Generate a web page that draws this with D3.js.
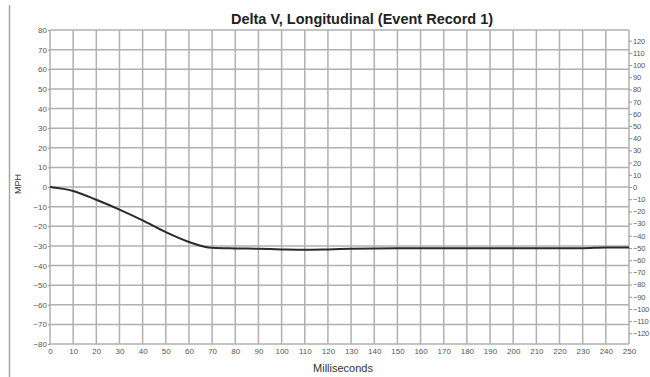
<!DOCTYPE html>
<html>
<head>
<meta charset="utf-8">
<script src="https://cdn.jsdelivr.net/npm/d3@7"></script>
<style>
  body { margin: 0; background: #fff; }
  svg { display: block; font-family: "Liberation Sans", Arial, sans-serif; }
</style>
</head>
<body>
<div id="chart"></div>
<script>
// time in ms, delta V in mph
var ms = [0, 10, 20, 30, 40, 50, 60, 70, 80, 90, 100, 110, 120, 130, 140, 150, 160, 170, 180, 190, 200, 210, 220, 230, 240, 250]
var mph = [0, -2, -6.5, -11.5, -17, -23, -28, -31, -31.3, -31.5, -31.8, -32, -31.8, -31.5, -31.3, -31.2, -31.2, -31.2, -31.2, -31.2, -31.2, -31.2, -31.2, -31.2, -30.8, -30.8]
var mphTicks = d3.range(-80, 81, 10)
var kmhTicks = d3.range(-120, 121, 10)
var msTicks = d3.range(0, 251, 10)

var w = 650, h = 377
var m = { top: 30, right: 21, bottom: 33, left: 50 }

var svg = d3.select('#chart').append('svg')
    .attr('width', w)
    .attr('height', h)

// page edge line on the left
svg.append('line')
    .attr('x1', 9.5).attr('x2', 9.5)
    .attr('y1', 5).attr('y2', h)
    .attr('stroke', '#a8a8a8')
    .attr('stroke-width', 1.5)

var x = d3.scaleLinear().domain([0, 250]).range([m.left, w - m.right])
var y = d3.scaleLinear().domain([-80, 80]).range([h - m.bottom, m.top])
// right axis in km/h, same zero
var y2 = d3.scaleLinear().domain([-80 * 1.609, 80 * 1.609]).range([h - m.bottom, m.top])

var grid = svg.append('g').attr('stroke', '#b0b0b0').attr('stroke-width', 1.5)
grid.selectAll('.vg').data(msTicks).enter().append('line')
    .attr('x1', d => x(d)).attr('x2', d => x(d))
    .attr('y1', y(80)).attr('y2', y(-80))
grid.selectAll('.hg').data(mphTicks).enter().append('line')
    .attr('x1', x(0)).attr('x2', x(250))
    .attr('y1', d => y(d)).attr('y2', d => y(d))

var tickColor = '#555'

var xAxis = svg.append('g')
    .attr('transform', 'translate(0,' + y(-80) + ')')
    .call(d3.axisBottom(x).tickValues(msTicks).tickSize(0).tickPadding(4))
var yAxis = svg.append('g')
    .attr('transform', 'translate(' + x(0) + ',0)')
    .call(d3.axisLeft(y).tickValues(mphTicks).tickSize(2).tickPadding(1))
var y2Axis = svg.append('g')
    .attr('transform', 'translate(' + x(250) + ',0)')
    .call(d3.axisRight(y2).tickValues(kmhTicks).tickSize(3).tickPadding(1))

;[xAxis, yAxis, y2Axis].forEach(function (a) {
    a.select('.domain').remove()
    a.selectAll('line').attr('stroke', '#999')
    a.selectAll('text')
        .attr('fill', tickColor)
        .style('font-size', '8px')
        .style('font-family', '"Liberation Sans", Arial, sans-serif')
})
y2Axis.selectAll('text').style('font-size', '7.5px').attr('letter-spacing', -0.2)

var line = d3.line()
    .x((d, i) => x(ms[i]))
    .y(d => y(d))
    .curve(d3.curveMonotoneX)

svg.append('path')
    .datum(mph)
    .attr('fill', 'none')
    .attr('stroke', '#2a2a2a')
    .attr('stroke-width', 2)
    .attr('d', line)

svg.append('text')
    .attr('x', 362)
    .attr('y', 24)
    .attr('text-anchor', 'middle')
    .attr('font-weight', 'bold')
    .attr('font-size', 14.5)
    .attr('fill', '#222')
    .text('Delta V, Longitudinal (Event Record 1)')

svg.append('text')
    .attr('x', 343)
    .attr('y', 372)
    .attr('text-anchor', 'middle')
    .attr('font-size', 11)
    .attr('fill', '#333')
    .text('Milliseconds')

svg.append('text')
    .attr('transform', 'translate(21,184) rotate(-90)')
    .attr('text-anchor', 'middle')
    .attr('font-size', 9)
    .attr('fill', '#333')
    .text('MPH')
</script>
</body>
</html>
